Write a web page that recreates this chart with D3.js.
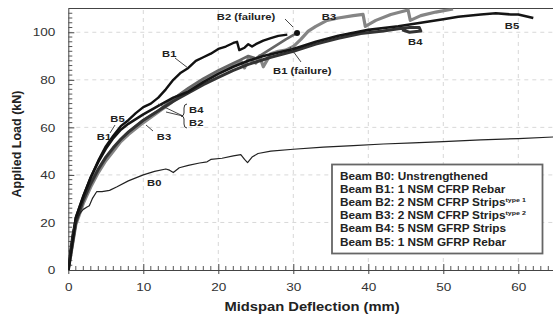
<!DOCTYPE html>
<html>
<head>
<meta charset="utf-8">
<script src="https://cdn.jsdelivr.net/npm/d3@7"></script>
<style>
  body { margin: 0; background: #fff; }
  svg { display: block; font-family: "Liberation Sans", Arial, sans-serif; }
  .lbl { font-size: 9.5px; font-weight: bold; fill: #222; }
  .leg { font-size: 10px; font-weight: bold; fill: #222; }
  .tick-lbl { font-size: 11.5px; fill: #333; }
</style>
</head>
<body>
<svg width="553" height="319"></svg>
<script>
// load-deflection curves, [deflection mm, load kN]
const b0 = [[0,0],[0.2,8],[0.5,15],[0.8,19],[1.2,22],[1.6,24],[2,25.5],[2.5,26.5],[2.8,27],[3.2,30],[3.8,33],
  [4.5,33],[5.5,33.5],[6.5,35],[8,37.5],[10,40],[11.5,41.5],[13,42.5],[13.5,42],[14,41],[14.8,43],[16,44],
  [17.5,45],[18.5,45.5],[19,46.5],[20.5,47],[22,48],[23,48.5],[23.5,46.5],[23.9,45.2],[24.5,47.5],[25.3,49],
  [27,50],[30,50.8],[34,51.7],[38,52.3],[42,53],[46,53.5],[50,54],[55,54.7],[60,55.3],[65,56]];
const b1 = [[0,0],[0.5,12],[1,22],[2,31],[3,39],[4,46],[5,52],[6,56.5],[7,60.5],[8,63],[9,66],[10,68.5],
  [11,70],[12,72.5],[13,76],[14,80],[15,83],[16,85],[17,88],[18,89.5],[19,91],[20,93],[21,94],[22,95.5],
  [22.5,96],[22.8,92.5],[23.5,93.5],[24,95],[24.5,94],[25,95],[26,96.5],[27,97.5],[28,98.5],[29.2,99]];
const b2 = [[0,0],[1,20],[2,29],[3,36],[4,42],[5,47],[6,51],[7,55],[8,58],[10,63],[12,67],[14,72],[16,76.5],
  [18,80.5],[20,84],[22,87],[23,88.5],[24,90],[25,89],[26,91],[27,93],[28,95],[29,97],[30.5,99.7]];
const b3 = [[0,0],[1,19],[2,28],[3,35],[4,41],[5,46],[6,50],[7,54],[8,57],[10,62],[12,66.5],[14,71],[16,75.5],
  [18,79.5],[20,83],[22,86],[23,88],[23.5,85],[24,89],[25,87],[25.5,90],[26,85.5],[27,91],[28,92],[29,92.5],
  [30,94],[31,97],[32,100.5],[33,102.5],[34.5,105],[36,106],[38,107],[39.3,107.5],[39.6,102.5],[41,105],[43,107.5],
  [45.3,109.4],[45.6,105],[47,107],[49,108.5],[51.3,109.8]];
const b4 = [[0,0],[1,20],[2,29.5],[3,36.5],[4,42.5],[5,47.5],[6,51.5],[7,55],[8,58],[10,63],[12,67],[14,71],
  [16,74.5],[18,78],[20,81],[22,84],[24,86.5],[27,89.5],[30,92],[33,95],[36,97.5],[39,99.5],[42,100.5],
  [44,101.5],[45.5,102],[46.8,102],[47,100.5],[45.5,100],[44.5,101]];
const b5 = [[0,0],[1,22],[2,31],[3,39],[4,45.5],[5,51],[6,55.5],[7,59],[8,61.5],[10,65.5],[12,69],[14,72.5],
  [16,75],[18,79],[20,82.5],[22,85.5],[24,88],[26,90],[28,91.5],[30,93],[33,96],[36,98.5],[40,101],[44,102.5],
  [47,104],[50,105.5],[52,106.5],[55,107.5],[57,108],[59,107.5],[60,107.5],[62,106]];

const xTicks = [0, 10, 20, 30, 40, 50, 60];
const yTicks = [0, 20, 40, 60, 80, 100];

const legendLines = [
  ["Beam B0: Unstrengthened", ""],
  ["Beam B1: 1 NSM CFRP Rebar", ""],
  ["Beam B2: 2 NSM CFRP Strips", "type 1"],
  ["Beam B3: 2 NSM CFRP Strips", "type 2"],
  ["Beam B4: 5 NSM GFRP Strips", ""],
  ["Beam B5: 1 NSM GFRP Rebar", ""]
];

// curve labels [text, x, y] in data units
const labels = [
  ["B2 (failure)", 19.8, 105.2], ["B3", 33.8, 105.2], ["B1", 12.5, 89.6], ["B5", 5.6, 62.3],
  ["B1", 3.8, 54.7], ["B3", 11.8, 54.7], ["B4", 16.1, 66], ["B2", 16.1, 60.6],
  ["B4", 45.3, 94.7], ["B5", 58.2, 101.4], ["B1 (failure)", 27.3, 82.5], ["B0", 10.5, 35.3]
];

const SX = 1.18; // the original figure is a bit stretched sideways

const svg = d3.select("svg");
const x = d3.scaleLinear().domain([0, 65]).range([68.3, 555.8]);
const y = d3.scaleLinear().domain([0, 110]).range([270, 8.5]);

// grid
svg.append("g").selectAll("line").data(xTicks.slice(1)).join("line")
  .attr("x1", d => x(d)).attr("x2", d => x(d)).attr("y1", y(0)).attr("y2", y(110))
  .attr("stroke", "#d8d8d8").attr("stroke-dasharray", "4,4");
svg.append("g").selectAll("line").data(yTicks.slice(1)).join("line")
  .attr("x1", x(0)).attr("x2", 553).attr("y1", d => y(d)).attr("y2", d => y(d))
  .attr("stroke", "#d8d8d8").attr("stroke-dasharray", "4,4");

// top frame
svg.append("line").attr("x1", x(0)).attr("x2", 553).attr("y1", y(110)).attr("y2", y(110))
  .attr("stroke", "#444").attr("stroke-width", 1.2);

// axes
const xAxis = svg.append("g").attr("transform", `translate(0,${y(0)})`)
  .call(d3.axisBottom(x).tickValues(xTicks).tickSize(4).tickSizeOuter(0).tickPadding(9));
xAxis.selectAll(".tick text").attr("class", "tick-lbl").attr("font-family", null).attr("font-size", null)
  .attr("transform", `scale(${SX},1)`);
xAxis.select(".domain").attr("stroke", "#444");
xAxis.selectAll(".tick line").attr("stroke", "#444").attr("y1", -6);
xAxis.selectAll(".minor").data(d3.range(1, 65).filter(v => v % 10)).join("line")
  .attr("x1", d => x(d)).attr("x2", d => x(d)).attr("y1", 0).attr("y2", -4).attr("stroke", "#555");

const yAxis = svg.append("g").attr("transform", `translate(${x(0)},0)`)
  .call(d3.axisLeft(y).tickValues(yTicks).tickSize(5).tickSizeOuter(0).tickPadding(8));
yAxis.selectAll(".tick text").attr("class", "tick-lbl").attr("font-family", null).attr("font-size", null)
  .attr("transform", `scale(${SX},1)`).attr("x", -11);
yAxis.select(".domain").attr("stroke", "#444");
yAxis.selectAll(".tick line").attr("stroke", "#444").attr("x2", 6);
yAxis.selectAll(".minor").data(d3.range(2, 110, 2).filter(v => v % 20)).join("line")
  .attr("x1", 0).attr("x2", 4).attr("y1", d => y(d)).attr("y2", d => y(d)).attr("stroke", "#555");

// curves
svg.append("clipPath").attr("id", "clip").append("rect")
  .attr("x", x(0)).attr("y", y(110)).attr("width", 553 - x(0)).attr("height", y(0) - y(110));
const line = d3.line().x(d => x(d[0])).y(d => y(d[1]));
const curves = [
  [b3, "#858585", 3.2], [b2, "#666", 2.6], [b4, "#333", 3], [b5, "#151515", 2.6], [b1, "#111", 2.4], [b0, "#222", 1.2]
];
svg.append("g").attr("clip-path", "url(#clip)").selectAll("path").data(curves).join("path")
  .attr("d", d => line(d[0])).attr("fill", "none")
  .attr("stroke", d => d[1]).attr("stroke-width", d => d[2]).attr("stroke-linejoin", "round");

// failure dot at end of B2
svg.append("circle").attr("cx", x(b2[b2.length - 1][0])).attr("cy", y(b2[b2.length - 1][1]))
  .attr("r", 3).attr("fill", "#111");

// labels
svg.append("g").selectAll("text").data(labels).join("text").attr("class", "lbl")
  .attr("transform", d => `translate(${x(d[1])},${y(d[2])}) scale(${SX},1)`).text(d => d[0]);

// leader lines (pixel)
const leaders = [[285,19,293,27],[175,58,188,68],[301,62,290,47],[153,131,146,125],
  [183,116,158,104],[183,116,166,112],[110,133,115,125]];
svg.append("g").selectAll("line").data(leaders).join("line")
  .attr("x1", d => d[0]).attr("y1", d => d[1]).attr("x2", d => d[2]).attr("y2", d => d[3])
  .attr("stroke", "#333").attr("stroke-width", 0.9);
svg.append("path")
  .attr("d", "M187,104 Q184,104 184,108 L184,113 Q184,116 181,116 Q184,116 184,119 L184,124 Q184,128 187,128")
  .attr("fill", "none").attr("stroke", "#333").attr("stroke-width", 1);

// legend
svg.append("rect").attr("x", 332).attr("y", 164.5).attr("width", 210.5).attr("height", 89)
  .attr("fill", "#fff").attr("stroke", "#666").attr("stroke-width", 1.8);
const lt = svg.append("g").selectAll("text").data(legendLines).join("text").attr("class", "leg")
  .attr("transform", (d, i) => `translate(340,${179.5 + i * 13.2}) scale(${SX},1)`);
lt.append("tspan").text(d => d[0]);
lt.append("tspan").attr("dy", -4).attr("font-size", "6px").text(d => d[1]);

// axis titles
svg.append("text").attr("transform", `translate(312,311) scale(${SX},1)`).attr("text-anchor", "middle")
  .attr("font-size", "12.5px").attr("font-weight", "bold").attr("fill", "#222").text("Midspan Deflection (mm)");
svg.append("text").attr("transform", "translate(21,144) rotate(-90)").attr("text-anchor", "middle")
  .attr("font-size", "12.5px").attr("font-weight", "bold").attr("fill", "#222").text("Applied Load (kN)");
</script>
</body>
</html>
